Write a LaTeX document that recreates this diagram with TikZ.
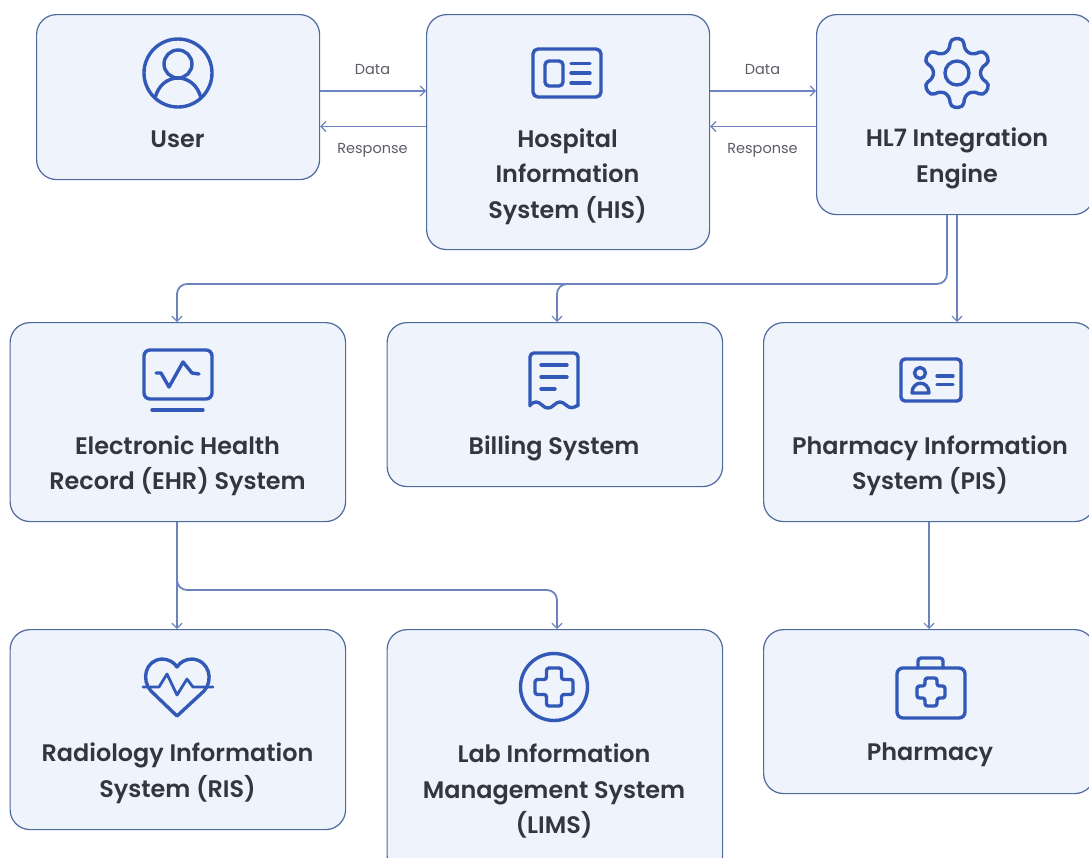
\documentclass[tikz,border=0pt]{standalone}
\usepackage{fontspec}
\setmainfont{Poppins}[UprightFont=*-Regular,BoldFont=*-SemiBold]
\usetikzlibrary{arrows.meta}
\definecolor{boxfill}{HTML}{EFF3FC}
\definecolor{boxline}{HTML}{4F6A9E}
\definecolor{connline}{HTML}{6B84BF}
\definecolor{iconblue}{HTML}{3258B8}
\definecolor{titletext}{HTML}{33363F}
\definecolor{labeltext}{HTML}{5A5D66}
\tikzset{
  sysbox/.style={draw=boxline,fill=boxfill,line width=1.2pt,rounded corners=20pt,inner sep=0pt},
  title/.style={text=titletext,font=\fontsize{23.9}{35.5}\selectfont\bfseries,align=center,inner sep=0pt},
  flowlabel/.style={text=labeltext,font=\fontsize{14.5}{17}\selectfont,inner sep=0pt},
  conn/.style={draw=connline,line width=1.8pt,-{Straight Barb[length=5pt,width=10pt,line width=1.2pt]}},
  icon/.style={draw=iconblue,line width=3.4pt,line cap=round,line join=round},
}
\newcommand{\sysbox}[5]{\node[sysbox,minimum width={#4-#2},minimum height={#5-#3},anchor=north west] (#1) at (#2,#3) {};}
\begin{document}
\begin{tikzpicture}[x=1pt,y=-1pt]
\useasboundingbox (0,0) rectangle (1089,857);
\clip (0,0) rectangle (1089,857);
\sysbox{user}{36}{14}{319}{179}
\sysbox{his}{426}{14}{709}{249}
\sysbox{hl}{816}{14}{1093}{214}
\sysbox{ehr}{9.5}{322}{345}{521}
\sysbox{bill}{386.5}{322}{722}{486}
\sysbox{pis}{763}{322}{1094}{521}
\sysbox{ris}{9.5}{629}{345}{829}
\sysbox{lims}{386.5}{629}{722}{875}
\sysbox{pharm}{763}{629}{1094}{793}

\node[title] (tuser) at (177.5,139) {User};
\node[title] (this) at (567.5,176.5) {Hospital\\Information\\System (HIS)};
\node[title] (thl) at (957,158.5) {HL7 Integration\\Engine};
\node[title] (tehr) at (177.5,466) {Electronic Health\\Record (EHR) System};
\node[title] (tbill) at (554,448) {Billing System};
\node[title] (tpis) at (930,466) {Pharmacy Information\\System (PIS)};
\node[title] (tris) at (177.5,773) {Radiology Information\\System (RIS)};
\node[title] (tlims) at (554,791) {Lab Information\\Management System\\(LIMS)};
\node[title] (tpharm) at (930,755) {Pharmacy};

\node[flowlabel] (d1) at (372.5,70) {Data};
\node[flowlabel] (r1) at (372.5,150) {Response};
\node[flowlabel] (d2) at (762.5,70) {Data};
\node[flowlabel] (r2) at (762.5,150) {Response};

% connectors
\draw[conn] (user.east |- 0,91) -- (his.west |- 0,91);
\draw[conn] (his.west |- 0,126.5) -- (user.east |- 0,126.5);
\draw[conn] (his.east |- 0,91) -- (hl.west |- 0,91);
\draw[conn] (hl.west |- 0,126.5) -- (his.east |- 0,126.5);
\draw[conn,rounded corners=10pt] (hl.south -| 947,0) -- (947,284) -- (177,284) -- (ehr.north -| 177,0);
\draw[conn,rounded corners=10pt] (567,284) -- (557,284) -- (bill.north -| 557,0);
\draw[conn] (hl.south -| 957,0) -- (pis.north -| 957,0);
\draw[conn] (ehr.south -| 177,0) -- (ris.north -| 177,0);
\draw[conn,rounded corners=10pt] (177,575) -- (177,590) -- (557,590) -- (lims.north -| 557,0);
\draw[conn] (pis.south -| 929,0) -- (pharm.north -| 929,0);

% user icon
\draw[icon] (178,73) circle (34);
\draw[icon] (178,64) circle (14);
\draw[icon] (155,98) .. controls (158,86) and (167,78) .. (178,78) .. controls (189,78) and (198,86) .. (201,98);
% HIS icon
\draw[icon,rounded corners=5pt] (533,49) rectangle (601,97);
\draw[icon,rounded corners=4pt] (545,61) rectangle (563,86);
\draw[icon] (571,63.5) -- (590,63.5) (571,73) -- (590,73) (571,83) -- (590,83);
% gear icon
\begin{scope}[shift={(957,73)}]
\draw[icon] (0,0) circle (12);
\draw[icon,rounded corners=5pt] (79:35) -- (101:35) -- (108:24) -- (132:24) -- (139:35) -- (161:35) -- (168:24) -- (192:24) -- (199:35) -- (221:35) -- (228:24) -- (252:24) -- (259:35) -- (281:35) -- (288:24) -- (312:24) -- (319:35) -- (341:35) -- (348:24) -- (12:24) -- (19:35) -- (41:35) -- (48:24) -- (72:24) -- cycle;
\end{scope}
% EHR icon
\draw[icon,rounded corners=6pt] (144,350) rectangle (212,399);
\draw[icon] (152,410) -- (203,410);
\draw[icon] (156,373) -- (161,373) -- (169,387) -- (183,362) -- (192,373) -- (199,374);
% Billing icon
\draw[icon,rounded corners=4pt] (530,406) -- (530,353) -- (578,353) -- (578,406);
\draw[icon] (530,405) .. controls (534,401) and (538,401) .. (542,405) .. controls (546,409) and (550,409) .. (554,405) .. controls (558,401) and (562,401) .. (566,405) .. controls (570,409) and (574,408) .. (578,405);
\draw[icon] (541,365) -- (567,365) (541,377) -- (567,377) (541,389) -- (555,389);
% PIS icon
\draw[icon,rounded corners=4pt] (901,359) rectangle (961,401);
\draw[icon] (920,373) circle (5.5);
\draw[icon] (912,393) .. controls (912,380) and (929,380) .. (929,393) -- cycle;
\draw[icon] (937,376) -- (953,376) (937,384.5) -- (953,384.5);
% Heart icon
\draw[icon] (177,716) -- (151,691) .. controls (141,680) and (145,660) .. (162,659) .. controls (168,659) and (174,662) .. (177,667) .. controls (180,662) and (186,659) .. (192,659) .. controls (209,660) and (214,680) .. (204,691) -- cycle;
\draw[icon,line width=2.8pt] (143,687) -- (159,687) -- (167,674) -- (177,695) -- (187,679) -- (193,687) -- (213,687);
% LIMS icon
\draw[icon] (554,687) circle (33.5);
\draw[icon,rounded corners=2.5pt] (546.5,668) -- (561.5,668) -- (561.5,679.5) -- (573,679.5) -- (573,694.5) -- (561.5,694.5) -- (561.5,706) -- (546.5,706) -- (546.5,694.5) -- (535,694.5) -- (535,679.5) -- (546.5,679.5) -- cycle;
% Pharmacy icon
\draw[icon,rounded corners=6pt] (897,668) rectangle (965,718);
\draw[icon,rounded corners=3pt] (918,668) -- (918,658) -- (943,658) -- (943,668);
\draw[icon,rounded corners=2.5pt] (925,678) -- (937,678) -- (937,686) -- (945,686) -- (945,698) -- (937,698) -- (937,706) -- (925,706) -- (925,698) -- (917,698) -- (917,686) -- (925,686) -- cycle;
\end{tikzpicture}
\end{document}
